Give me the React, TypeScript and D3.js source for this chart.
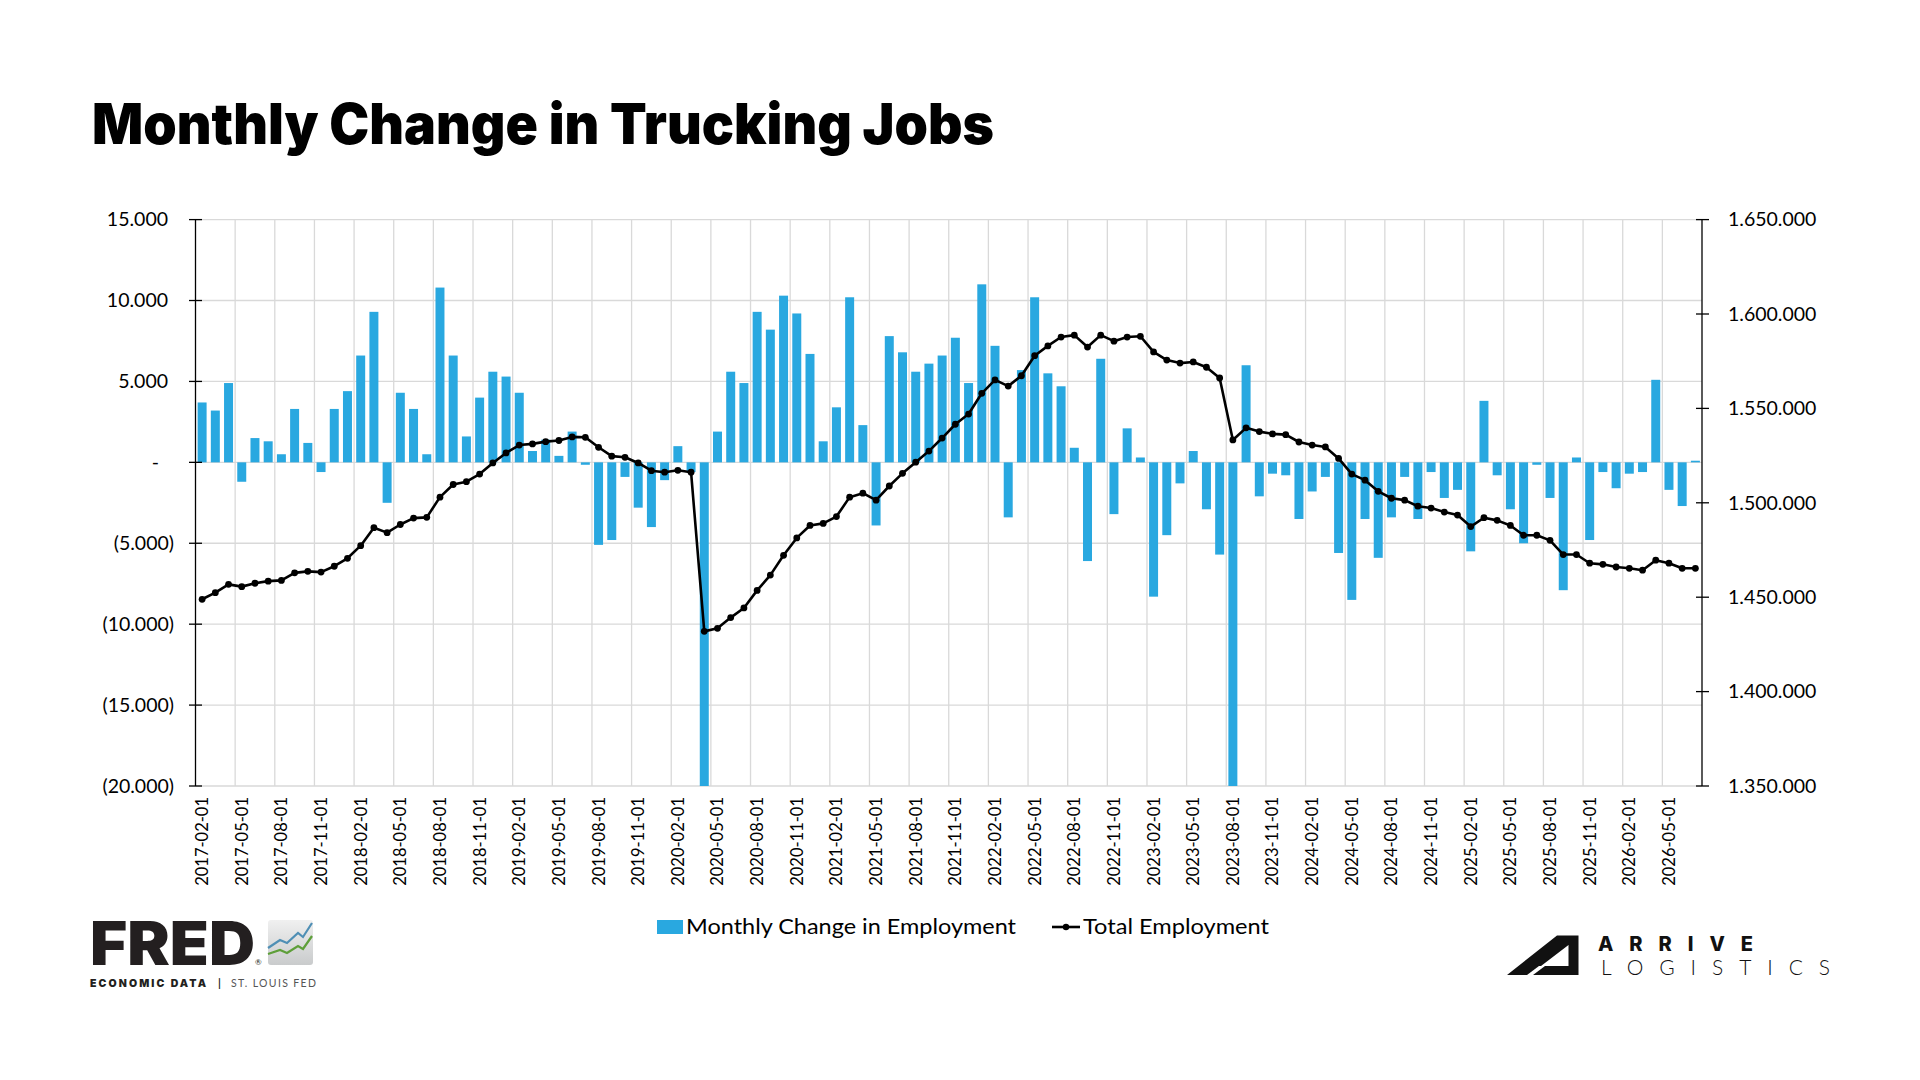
import React from 'react';
import * as d3 from 'd3';

// monthly change in trucking employment, thousands of jobs (2017-02 .. 2026-07)
const monthlyChange = [
  3.7, 3.2, 4.9, -1.2, 1.5, 1.3, 0.5, 3.3, 1.2, -0.6,
  3.3, 4.4, 6.6, 9.3, -2.5, 4.3, 3.3, 0.5, 10.8, 6.6,
  1.6, 4.0, 5.6, 5.3, 4.3, 0.7, 1.4, 0.4, 1.9, -0.15,
  -5.1, -4.8, -0.9, -2.8, -4.0, -1.1, 1.0, -0.6, -84.3, 1.9,
  5.6, 4.9, 9.3, 8.2, 10.3, 9.2, 6.7, 1.3, 3.4, 10.2,
  2.3, -3.9, 7.8, 6.8, 5.6, 6.1, 6.6, 7.7, 4.9, 11.0,
  7.2, -3.4, 5.7, 10.2, 5.5, 4.7, 0.9, -6.1, 6.4, -3.2,
  2.1, 0.3, -8.3, -4.5, -1.3, 0.7, -2.9, -5.7, -32.8, 6.0,
  -2.1, -0.7, -0.8, -3.5, -1.8, -0.9, -5.6, -8.5, -3.5, -5.9,
  -3.4, -0.9, -3.5, -0.6, -2.2, -1.7, -5.5, 3.8, -0.8, -2.9,
  -5.0, -0.15, -2.2, -7.9, 0.3, -4.8, -0.6, -1.6, -0.7, -0.6,
  5.1, -1.7, -2.7, 0.1,
];

// total employment, thousands of jobs
const totalEmployment = [
  1448.9, 1452.4, 1456.8, 1455.6, 1457.4, 1458.5, 1458.9, 1462.9, 1463.7, 1463.3,
  1466.4, 1470.6, 1477.3, 1486.8, 1484.2, 1488.5, 1491.9, 1492.3, 1503.0, 1509.7,
  1511.2, 1515.2, 1521.1, 1526.4, 1530.6, 1531.2, 1532.4, 1533.0, 1534.9, 1534.7,
  1529.4, 1524.7, 1524.1, 1521.1, 1517.0, 1516.2, 1517.2, 1516.2, 1431.9, 1433.5,
  1439.2, 1444.3, 1453.6, 1461.7, 1472.2, 1481.4, 1488.0, 1489.1, 1492.7, 1503.0,
  1505.1, 1501.4, 1508.9, 1515.6, 1521.5, 1527.4, 1534.3, 1541.6, 1547.0, 1558.0,
  1565.1, 1561.8, 1567.3, 1577.9, 1583.1, 1587.8, 1588.8, 1582.5, 1588.8, 1585.6,
  1587.8, 1588.2, 1579.9, 1575.6, 1574.0, 1574.6, 1571.8, 1566.1, 1533.3, 1539.7,
  1537.7, 1536.5, 1536.1, 1532.2, 1530.6, 1529.6, 1523.5, 1515.2, 1512.0, 1506.1,
  1502.4, 1501.4, 1498.2, 1497.2, 1495.1, 1493.5, 1487.4, 1492.1, 1490.7, 1488.0,
  1482.8, 1482.8, 1480.1, 1472.6, 1472.6, 1468.0, 1467.4, 1466.0, 1465.3, 1464.3,
  1469.6, 1468.0, 1465.3, 1465.3,
];

const months = d3.timeMonth.range(new Date(2017, 1, 1), new Date(2026, 7, 1));
const fmtDate = d3.timeFormat('%Y-%m-%d');

const leftTicks = [15, 10, 5, 0, -5, -10, -15, -20];
const leftTickLabels = ['15.000', '10.000', '5.000', '-', '(5.000)', '(10.000)', '(15.000)', '(20.000)'];
const rightTicks = [1650, 1600, 1550, 1500, 1450, 1400, 1350];
const rightTickLabels = ['1.650.000', '1.600.000', '1.550.000', '1.500.000', '1.450.000', '1.400.000', '1.350.000'];

const BLUE = '#29a8e0';
const GRID = '#d9d9d9';
const FONT = 'Lato, Inter, sans-serif';
const HEAVY = 'Inter, Lato, sans-serif';

const plot = { left: 195.5, right: 1702, top: 219.6, bottom: 786 };

export default function App() {
  const n = monthlyChange.length;
  const x = d3.scaleBand<number>().domain(d3.range(n)).range([plot.left, plot.right]).padding(0);
  const bw = x.bandwidth();
  const cx = (i: number) => (x(i) ?? 0) + bw / 2;
  const yL = d3.scaleLinear().domain([-20, 15]).range([plot.bottom, plot.top]);
  const yR = d3.scaleLinear().domain([1350, 1650]).range([plot.bottom, plot.top]);
  const barW = bw * 0.68;

  const line = d3.line<number>().x((_, i) => cx(i)).y(d => yR(d));

  // vertical grid every 3 months (between categories)
  const vGrid = d3.range(3, n, 3).map(i => x(i) as number);

  return (
    <svg width={1920} height={1080} style={{ position: 'absolute', left: 0, top: 0, background: '#fff' }}
      fontFamily={FONT}>
      <defs>
        <clipPath id="plotClip">
          <rect x={plot.left} y={plot.top} width={plot.right - plot.left} height={plot.bottom - plot.top} />
        </clipPath>
        <linearGradient id="fredIcon" x1="0" y1="0" x2="0" y2="1">
          <stop offset="0" stopColor="#f0f0f0" />
          <stop offset="1" stopColor="#c9cbcc" />
        </linearGradient>
      </defs>

      {/* title */}
      <text x={92} y={143.5} fontSize={56} fontWeight={900} fontFamily={HEAVY} fill="#000"
        textLength={902} lengthAdjust="spacingAndGlyphs">Monthly Change in Trucking Jobs</text>

      {/* grid */}
      <g stroke={GRID} strokeWidth={1.3}>
        {leftTicks.map(t => (
          <line key={t} x1={plot.left} x2={plot.right} y1={yL(t)} y2={yL(t)} />
        ))}
        {vGrid.map((gx, i) => (
          <line key={i} x1={gx} x2={gx} y1={plot.top} y2={plot.bottom} />
        ))}
      </g>

      {/* bars */}
      <g clipPath="url(#plotClip)">
        {monthlyChange.map((v, i) => (
          <rect key={i} x={cx(i) - barW / 2} width={barW}
            y={Math.min(yL(v), yL(0))} height={Math.abs(yL(v) - yL(0))} fill={BLUE} />
        ))}
      </g>

      {/* left axis */}
      <line x1={plot.left} x2={plot.left} y1={plot.top} y2={plot.bottom} stroke="#000" strokeWidth={1.3} />
      {leftTicks.map((t, i) => (
        <g key={t}>
          <line x1={plot.left - 6.5} x2={plot.left + 6.5} y1={yL(t)} y2={yL(t)} stroke="#000" strokeWidth={1.3} />
          <text x={t > 0 ? 168 : t < 0 ? 174 : 159} y={yL(t)} dy="0.35em" textAnchor="end"
            fontSize={19.5} fill="#000">{leftTickLabels[i]}</text>
        </g>
      ))}

      {/* right axis */}
      <line x1={plot.right} x2={plot.right} y1={plot.top} y2={plot.bottom} stroke="#000" strokeWidth={1.3} />
      {rightTicks.map((t, i) => (
        <g key={t}>
          <line x1={plot.right - 6} x2={plot.right + 7} y1={yR(t)} y2={yR(t)} stroke="#000" strokeWidth={1.3} />
          <text x={1728} y={yR(t)} dy="0.35em" fontSize={19.5} fill="#000">{rightTickLabels[i]}</text>
        </g>
      ))}

      {/* x labels */}
      {months.map((m, i) => i % 3 === 0 ? (
        <text key={i} transform={`translate(${cx(i)},797) rotate(-90)`} dy="0.36em" textAnchor="end"
          fontSize={16.5} fill="#000">{fmtDate(m)}</text>
      ) : null)}

      {/* total employment line */}
      <path d={line(totalEmployment) ?? ''} fill="none" stroke="#000" strokeWidth={2.6} strokeLinejoin="round" />
      {totalEmployment.map((v, i) => (
        <circle key={i} cx={cx(i)} cy={yR(v)} r={3.4} fill="#000" />
      ))}

      {/* legend */}
      <rect x={657} y={920} width={26} height={14} fill={BLUE} />
      <text x={686} y={934} fontSize={22} fill="#000" textLength={330} lengthAdjust="spacingAndGlyphs">
        Monthly Change in Employment</text>
      <line x1={1052} x2={1080} y1={927} y2={927} stroke="#000" strokeWidth={2.6} />
      <circle cx={1066} cy={927} r={3.2} fill="#000" />
      <text x={1083} y={934} fontSize={22} fill="#000" textLength={186} lengthAdjust="spacingAndGlyphs">
        Total Employment</text>

      {/* FRED logo */}
      <text x={90} y={965} fontSize={60} fontWeight={900} fontFamily={HEAVY} fill="#231f20" textLength={165}
        lengthAdjust="spacingAndGlyphs">FRED</text>
      <text x={255} y={965} fontSize={8} fill="#231f20">®</text>
      <rect x={268} y={920} width={45} height={45} rx={3} fill="url(#fredIcon)" />
      <polyline points="268,948 280,940 287,943 298,933 303,937 312,923" fill="none" stroke="#4f8fb5" strokeWidth={2.2} />
      <polyline points="268,954 280,950 287,953 298,946 303,949 312,936" fill="none" stroke="#5e9f3a" strokeWidth={2.2} />
      <text x={90} y={987} fontSize={10.5} fontWeight={900} fontFamily={HEAVY} fill="#231f20" textLength={116}
        lengthAdjust="spacing">ECONOMIC DATA</text>
      <text x={218} y={987} fontSize={11} fontWeight={700} fill="#231f20">|</text>
      <text x={231} y={987} fontSize={10.5} fill="#555" textLength={85} lengthAdjust="spacing">ST. LOUIS FED</text>

      {/* Arrive Logistics logo */}
      <path d="M1507,975 L1557,935.5 L1578.5,935.5 L1578.5,975 Z M1541,966 L1568.5,945 L1568.5,966 Z"
        fill="#111" fillRule="evenodd" />
      <path d="M1527,975 L1533,975 L1545,966 L1539,966 Z" fill="#fff" />
      <text x={1598} y={951} fontSize={20} fontWeight={800} fontFamily={HEAVY} fill="#111" textLength={155}
        lengthAdjust="spacing">ARRIVE</text>
      <text x={1601} y={975} fontSize={21} fontWeight={300} fill="#111" textLength={229}
        lengthAdjust="spacing">LOGISTICS</text>
    </svg>
  );
}
